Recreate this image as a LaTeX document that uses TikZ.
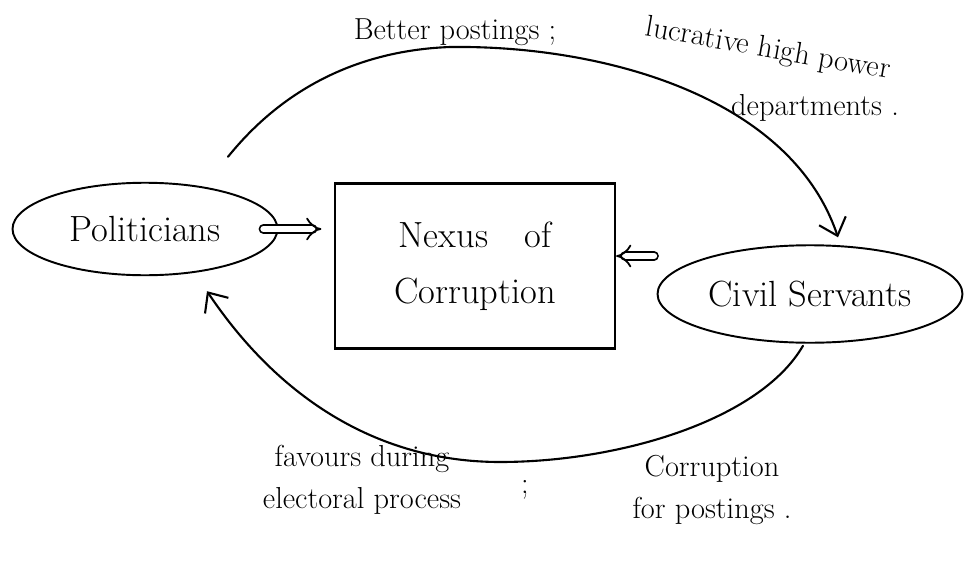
\documentclass[tikz,border=0pt]{standalone}
\usetikzlibrary{arrows.meta,positioning,shapes.geometric,calc}

\begin{document}
\begin{tikzpicture}[
	x=0.02cm, y=-0.02cm,
	font=\huge,
	line cap=round,
	actor/.style={
		ellipse, draw=black, line width=1.1pt,
		inner sep=0pt
	},
	nexusbox/.style={
		rectangle, draw=black, line width=1.3pt,
		minimum width=5.6cm, minimum height=3.3cm,
		align=center
	},
	note/.style={font=\LARGE, inner sep=1pt, align=center},
	feed/.style={-{Straight Barb[length=9pt,width=16pt]}, line width=1.2pt},
	push/.style={double, double distance=3.5pt, line width=1pt, -{Implies}}
]
\useasboundingbox (0,0) rectangle (964,585);

% The two sides and the box between them
\node[actor, minimum width=5.3cm, minimum height=1.85cm] (pol) at (145,229) {Politicians};
\node[nexusbox] (nexus) at (475,266) {Nexus\quad of\\[0.25cm] Corruption};
\node[actor, minimum width=6.1cm, minimum height=1.95cm] (civ) at (810,294) {Civil Servants};

% Both sides feed the nexus
\draw[push, shorten <=-0.3cm, shorten >=0.25cm] (pol.east) -- (pol.east -| nexus.west);
\draw[push, shorten <=0.05cm] ([yshift=0.76cm]civ.west) -- ([yshift=0.76cm]civ.west -| nexus.east);

% Upper loop: politicians -> civil servants
\draw[feed] ($(pol.north)+(83,-25)$) .. controls (290,80) and (370,50) .. (450,47)
	.. controls (600,45) and (790,95) .. ($(civ.north)+(28,-7)$);

% Lower loop: civil servants -> politicians
\draw[feed] ($(civ.south)+(-7,2)$) .. controls (760,420) and (620,462) .. (500,462)
	.. controls (380,462) and (280,400) .. ($(pol.south)+(62,15)$);

% Labels on the loops
\node[note] (better) at (455,32) {Better postings ;};
\node[note, rotate=-10] (lucr) at (768,50) {lucrative high power};
\node[note] (dept) at (815,108) {departments .};

\node[note] (favours) at (362,480) {favours during\\[2pt] electoral process};
\node[note] (semi) at (525,490) {;};
\node[note] (corr) at (712,490) {Corruption\\[2pt] for postings .};

\end{tikzpicture}
\end{document}
